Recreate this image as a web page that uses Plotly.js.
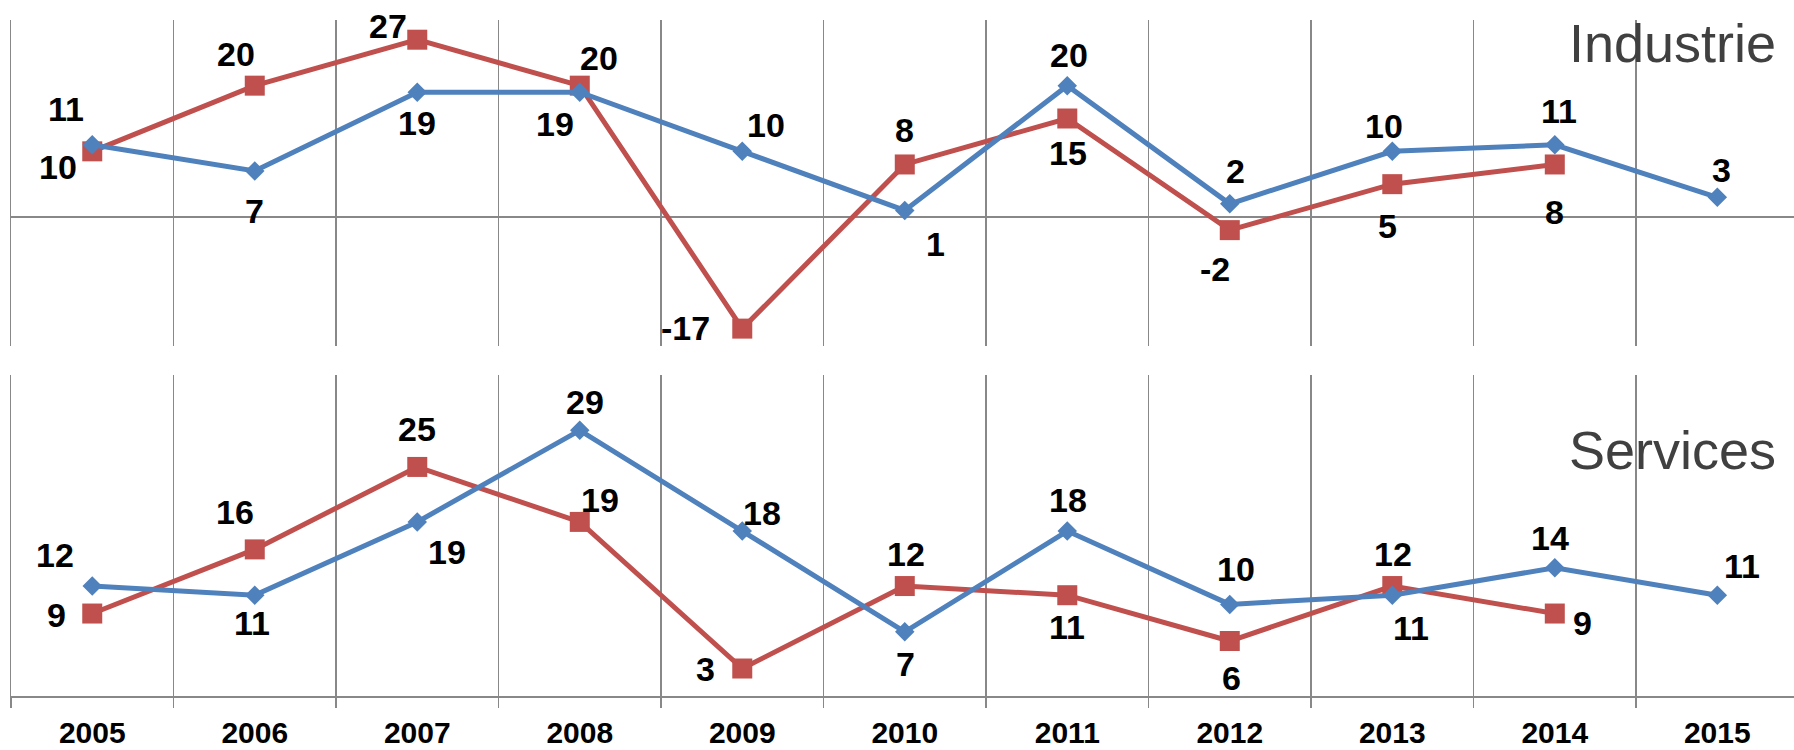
<!DOCTYPE html>
<html><head><meta charset="utf-8">
<script src="https://cdn.plot.ly/plotly-3.0.1.min.js"></script>
<style>html,body{margin:0;padding:0;background:#fff;}#chart{width:1794px;height:750px;}</style>
</head><body><div id="chart"></div>
<script>
// ---- data ----
const years = ['2005','2006','2007','2008','2009','2010','2011','2012','2013','2014','2015'];
const industrieBlue = [11, 7, 19, 19, 10, 1, 20, 2, 10, 11, 3];
const industrieRed  = [10, 20, 27, 20, -17, 8, 15, -2, 5, 8];
const servicesBlue  = [12, 11, 19, 29, 18, 7, 18, 10, 11, 14, 11];
const servicesRed   = [9, 16, 25, 19, 3, 12, 11, 6, 12, 9];
const panelTitles = ['Industrie', 'Services'];

// ---- label offsets (screen px: dx right, dy down) ----
const offIndBlue = [[-26,-36],[0,40],[0,31],[-25,32],[24,-26],[31,34],[2,-31],[6,-33],[-8,-25],[4,-34],[4,-27]];
const offIndRed  = [[-34,16],[-19,-32],[-29,-14],[19,-28],[-57,-1],[0,-34],[1,34],[-15,39],[-5,42],[0,48]];
const offSerBlue = [[-37,-31],[-3,28],[30,30],[5,-28],[20,-18],[1,32],[1,-31],[6,-35],[19,33],[-5,-30],[25,-29]];
const offSerRed  = [[-36,1],[-20,-37],[0,-38],[20,-22],[-37,0],[1,-32],[0,32],[2,37],[1,-32],[28,9]];

const blue = '#4F81BD', red = '#C0504D', gridColor = '#888888';
const idx = years.map((_, i) => i);
const bounds = years.map((_, i) => i - 0.5).concat([years.length - 0.5]);
const font = 'Liberation Sans, Arial, sans-serif';

function lineTrace(vals, color, symbol, size, xa, ya) {
  return {
    x: idx.slice(0, vals.length), y: vals, xaxis: xa, yaxis: ya,
    type: 'scatter', mode: 'lines+markers', cliponaxis: false,
    line: {color: color, width: 5},
    marker: {color: color, symbol: symbol, size: size},
    hoverinfo: 'skip'
  };
}

const data = [
  lineTrace(industrieRed, red, 'square', 20, 'x2', 'y2'),
  lineTrace(industrieBlue, blue, 'diamond', 15, 'x2', 'y2'),
  lineTrace(servicesRed, red, 'square', 20, 'x', 'y'),
  lineTrace(servicesBlue, blue, 'diamond', 15, 'x', 'y')
];

const annotations = [];
function addLabels(vals, offs, xr, yr) {
  vals.forEach((v, i) => {
    annotations.push({
      x: i, y: v, xref: xr, yref: yr, text: String(v), showarrow: false,
      xanchor: 'center', yanchor: 'middle',
      xshift: offs[i][0], yshift: -offs[i][1],
      font: {family: font, size: 34, color: '#000', weight: 'bold'}
    });
  });
}
addLabels(industrieRed, offIndRed, 'x2', 'y2');
addLabels(industrieBlue, offIndBlue, 'x2', 'y2');
addLabels(servicesRed, offSerRed, 'x', 'y');
addLabels(servicesBlue, offSerBlue, 'x', 'y');

annotations.push({
  x: 0.991, y: 0.9667, xref: 'paper', yref: 'paper', text: panelTitles[0], showarrow: false,
  xanchor: 'right', yanchor: 'middle', font: {family: font, size: 54, color: '#404040'}
});
annotations.push({
  x: 0.991, y: 0.3642, xref: 'paper', yref: 'paper', text: panelTitles[1], showarrow: false,
  xanchor: 'right', yanchor: 'middle', font: {family: font, size: 54, color: '#404040'}
});

const minorGrid = {
  tickmode: 'array', tickvals: bounds, showgrid: true, gridcolor: gridColor, gridwidth: 1.5
};

const layout = {
  width: 1794, height: 750,
  margin: {l: 11, r: 0, t: 20, b: 54},
  paper_bgcolor: '#fff', plot_bgcolor: '#fff',
  showlegend: false,
  xaxis: {
    domain: [0, 1], anchor: 'y', range: [-0.5, 10.472],
    tickmode: 'array', tickvals: idx, ticktext: years, ticks: '',
    showgrid: false, zeroline: false,
    showline: true, linecolor: gridColor, linewidth: 1.5,
    ticklabelstandoff: 9,
    tickfont: {family: font, size: 30, color: '#000', weight: 'bold'},
    minor: Object.assign({ticks: 'outside', ticklen: 10, tickcolor: gridColor, tickwidth: 1.5}, minorGrid)
  },
  xaxis2: {
    domain: [0, 1], anchor: 'y2', matches: 'x', range: [-0.5, 10.472],
    tickmode: 'array', tickvals: idx, showticklabels: false, ticks: '',
    showgrid: false, zeroline: false, showline: false,
    minor: Object.assign({ticks: ''}, minorGrid)
  },
  yaxis: {
    domain: [0, 0.4744], anchor: 'x', range: [0, 35],
    showgrid: false, zeroline: false, showticklabels: false, ticks: '',
    showline: true, linecolor: gridColor, linewidth: 1.5
  },
  yaxis2: {
    domain: [0.5182, 1], anchor: 'x2', range: [-19.6, 30],
    showgrid: false, showticklabels: false, ticks: '',
    zeroline: true, zerolinecolor: gridColor, zerolinewidth: 1.5,
    showline: true, linecolor: gridColor, linewidth: 1.5
  },
  annotations: annotations
};

Plotly.newPlot('chart', data, layout, {displayModeBar: false, staticPlot: true});
</script>
</body></html>
